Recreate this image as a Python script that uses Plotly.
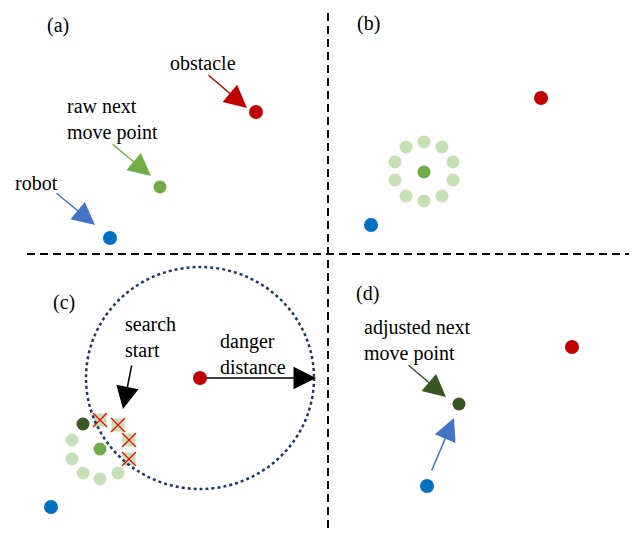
import plotly.graph_objects as go

# ---- data (pixel coordinates, y downwards) ----
panel_labels = ["(a)", "(b)", "(c)", "(d)"]
panel_label_x = [58, 368, 64, 367]
panel_label_y = [25, 23, 302, 293]

obstacle_x = [256, 541, 200, 572]
obstacle_y = [112, 98, 378, 347]

robot_x = [110, 371, 51, 427]
robot_y = [238, 225, 507, 486]

raw_next_x = [160, 424, 100]
raw_next_y = [187, 172, 449]

ring_b_x = [424, 442, 453, 453, 442, 424, 406, 395, 395, 406]
ring_b_y = [142, 147, 162, 180, 196, 201, 196, 180, 162, 147]

ring_c_free_x = [118, 100, 83, 72, 72]
ring_c_free_y = [473, 479, 473, 459, 440]

ring_c_blocked_x = [100, 118, 129, 129]
ring_c_blocked_y = [420, 425, 440, 459]

adjusted_x = [83, 459]
adjusted_y = [424, 404]

danger_center = (200, 378)
danger_rx = 114
danger_ry = 111

divider_x = 328
divider_y = 254

RED = "#C00000"
GREEN = "#70AD47"
LIGHT_GREEN = "#C5E0B4"
DARK_GREEN = "#385723"
BLUE = "#0070C0"
ARROW_BLUE = "#4472C4"
NAVY = "#1F3864"
FONT = "Liberation Serif, Times New Roman, serif"

# page body margin offset (browser default 8px)
OFF = 8

fig = go.Figure()

# divider lines
fig.add_trace(go.Scatter(x=[27, 637], y=[divider_y, divider_y], mode="lines",
                         line=dict(color="black", width=2, dash="8px,5px"),
                         hoverinfo="skip", showlegend=False))
fig.add_trace(go.Scatter(x=[divider_x, divider_x], y=[0, 530], mode="lines",
                         line=dict(color="black", width=2, dash="8px,5px"),
                         hoverinfo="skip", showlegend=False))

# danger circle
fig.add_shape(type="circle", xref="x", yref="y",
              x0=danger_center[0] - danger_rx, x1=danger_center[0] + danger_rx,
              y0=danger_center[1] - danger_ry, y1=danger_center[1] + danger_ry,
              line=dict(color=NAVY, width=2.5, dash="dot"))

# candidate rings
fig.add_trace(go.Scatter(x=ring_b_x + ring_c_free_x, y=ring_b_y + ring_c_free_y,
                         mode="markers", marker=dict(color=LIGHT_GREEN, size=13),
                         showlegend=False))
fig.add_trace(go.Scatter(x=ring_c_blocked_x, y=ring_c_blocked_y, mode="markers",
                         marker=dict(color=LIGHT_GREEN, size=13, symbol="square"),
                         showlegend=False))
fig.add_trace(go.Scatter(x=ring_c_blocked_x, y=ring_c_blocked_y, mode="markers",
                         marker=dict(color="#FF0000", size=14, symbol="x-thin-open",
                                     line=dict(color="#FF0000", width=1.2)),
                         showlegend=False))

# points
fig.add_trace(go.Scatter(x=obstacle_x, y=obstacle_y, mode="markers",
                         marker=dict(color=RED, size=14), showlegend=False))
fig.add_trace(go.Scatter(x=robot_x, y=robot_y, mode="markers",
                         marker=dict(color=BLUE, size=14), showlegend=False))
fig.add_trace(go.Scatter(x=raw_next_x, y=raw_next_y, mode="markers",
                         marker=dict(color=GREEN, size=13), showlegend=False))
fig.add_trace(go.Scatter(x=adjusted_x, y=adjusted_y, mode="markers",
                         marker=dict(color=DARK_GREEN, size=13), showlegend=False))

# panel labels
for t, x, y in zip(panel_labels, panel_label_x, panel_label_y):
    fig.add_annotation(x=x, y=y, text=t, showarrow=False,
                       font=dict(family=FONT, size=20, color="black"))

# text labels
texts = [
    ("obstacle", 203, 63, "center"),
    ("raw next<br>move point", 65, 119, "left"),
    ("robot", 13, 183, "left"),
    ("search<br>start", 123, 337, "left"),
    ("danger<br>distance", 253, 354, "center"),
    ("adjusted next<br>move point", 362, 340, "left"),
]
for t, x, y, anc in texts:
    fig.add_annotation(x=x, y=y, text=t, showarrow=False, xanchor=anc, align="left",
                       font=dict(family=FONT, size=20, color="black"))

# arrows (tail -> head)
arrows = [
    (207, 74, 247, 108, RED),
    (111, 143, 151, 176, GREEN),
    (55, 192, 95, 225, ARROW_BLUE),
    (132, 364, 123, 409, "black"),
    (205, 378, 316, 378, "black"),
    (407, 364, 446, 397, DARK_GREEN),
    (431, 472, 454, 418, ARROW_BLUE),
]
for x0, y0, x1, y1, c in arrows:
    fig.add_annotation(x=x1, y=y1, ax=x0, ay=y0, xref="x", yref="y",
                       axref="x", ayref="y", text="", showarrow=True,
                       arrowhead=2, arrowsize=3, arrowwidth=1.5, arrowcolor=c)

fig.update_xaxes(range=[OFF, 637 + OFF], visible=False, fixedrange=True)
fig.update_yaxes(range=[538 + OFF, OFF], visible=False, fixedrange=True)
fig.update_layout(width=637, height=538, margin=dict(l=0, r=0, t=0, b=0),
                  plot_bgcolor="white", paper_bgcolor="white", showlegend=False)

fig.write_html("out.html")
